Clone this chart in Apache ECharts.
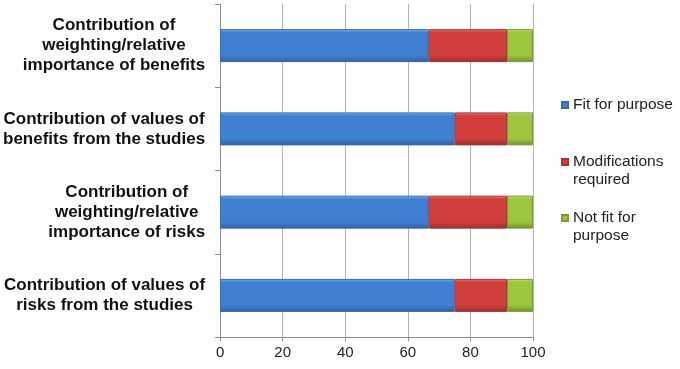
<!DOCTYPE html>
<html>
<head>
<meta charset="utf-8">
<script src="https://cdn.jsdelivr.net/npm/echarts@6/dist/echarts.min.js"></script>
<style>
  html, body { margin: 0; padding: 0; background: #fff; }
  #chart { width: 680px; height: 369px; }
</style>
</head>
<body>
<div id="chart"></div>
<script>
const categories = [
    'Contribution of\nweighting/relative\nimportance of benefits',
    'Contribution of values of\nbenefits from the studies',
    'Contribution of\nweighting/relative\nimportance of risks',
    'Contribution of values of\nrisks from the studies'
];
const fitForPurpose = [66.7, 75, 66.7, 75];
const modificationsRequired = [25, 16.7, 25, 16.7];
const notFitForPurpose = [8.3, 8.3, 8.3, 8.3];
const xTicks = [0, 20, 40, 60, 80, 100];

const FONT = '"Liberation Sans", Arial, sans-serif';

// bevel-like gradient: light top edge, dark bottom edge
function bevel(light, main, dark) {
    return new echarts.graphic.LinearGradient(0, 0, 0, 1, [
        { offset: 0, color: light },
        { offset: 0.1, color: main },
        { offset: 0.8, color: main },
        { offset: 1, color: dark }
    ]);
}

const colors = {
    fit: bevel('#7fb2ec', '#4080d2', '#335f9c'),
    mod: bevel('#ea7e7b', '#d13e3c', '#982f2d'),
    notFit: bevel('#c8e27a', '#9cc63e', '#6f8d2f')
};

function barSeries(name, data, color, border) {
    return {
        name: name,
        type: 'bar',
        stack: 'total',
        data: data,
        barWidth: 33,
        itemStyle: { color: color, borderColor: border, borderWidth: 1 }
    };
}

function legendAt(name, top) {
    return {
        data: [{ name: name, icon: 'rect' }],
        left: 556,
        top: top,
        itemWidth: 6,
        itemHeight: 6,
        selectedMode: false,
        textStyle: { fontFamily: FONT, fontSize: 15.5, color: '#222', lineHeight: 18 }
    };
}

const chart = echarts.init(document.getElementById('chart'));
chart.setOption({
    animation: false,
    grid: { left: 220, right: 147, top: 4, bottom: 32 },
    legend: [
        legendAt('Fit for purpose', 91),
        // leading blank line keeps the icon level with the first text line
        Object.assign(legendAt('Modifications required', 130), {
            formatter: () => '\nModifications\nrequired'
        }),
        Object.assign(legendAt('Not fit for purpose', 186), {
            formatter: () => '\nNot fit for\npurpose'
        })
    ],
    xAxis: {
        type: 'value',
        min: xTicks[0],
        max: xTicks[xTicks.length - 1],
        interval: 20,
        axisLine: { show: true, lineStyle: { color: '#8c8c8c' } },
        axisTick: { show: true, length: 4, lineStyle: { color: '#8c8c8c' } },
        splitLine: { lineStyle: { color: '#b4b4b4' } },
        axisLabel: { fontFamily: FONT, fontSize: 15, color: '#222', margin: 8 }
    },
    yAxis: {
        type: 'category',
        data: categories,
        inverse: true,
        axisLine: { lineStyle: { color: '#8c8c8c' } },
        axisTick: { show: true, length: 5, lineStyle: { color: '#8c8c8c' } },
        axisLabel: {
            margin: 15,
            align: 'right',
            formatter: v => v.split('\n').map(s => '{a|' + s + '}').join('\n'),
            rich: {
                a: { align: 'center', fontFamily: FONT, fontSize: 17, fontWeight: 'bold', color: '#111', lineHeight: 20 }
            }
        }
    },
    series: [
        barSeries('Fit for purpose', fitForPurpose, colors.fit, '#3a6aae'),
        barSeries('Modifications required', modificationsRequired, colors.mod, '#a33533'),
        barSeries('Not fit for purpose', notFitForPurpose, colors.notFit, '#7a9a38')
    ]
});
</script>
</body>
</html>
